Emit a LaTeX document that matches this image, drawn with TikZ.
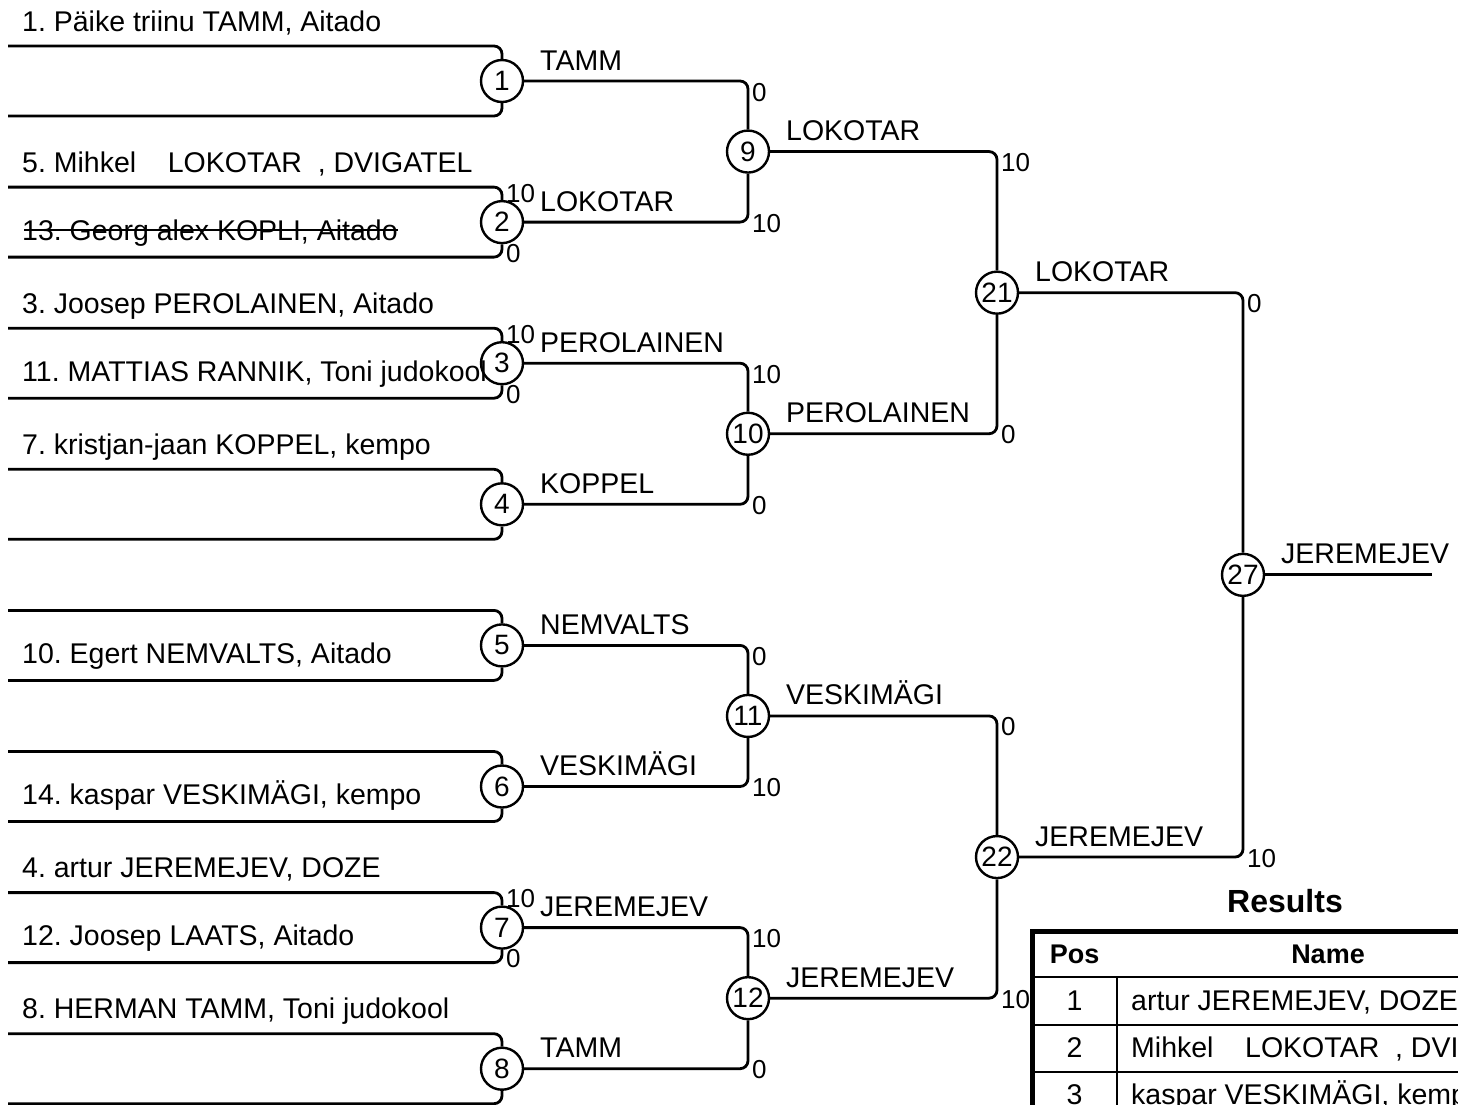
\documentclass[tikz,border=0pt]{standalone}
\usepackage{fontspec}
\setmainfont{Liberation Sans}
\usetikzlibrary{calc}
\frenchspacing
\begin{document}
\frenchspacing
\begin{tikzpicture}[x=1pt,y=-1pt,
  bline/.style={line width=2.8pt, rounded corners=8pt},
  mnode/.style={circle, draw, line width=2.4pt, minimum size=42pt, inner sep=0pt, font=\fontsize{28}{28}\selectfont},
  entry/.style={anchor=base west, inner sep=0pt, font=\fontsize{28.5}{32}\selectfont},
  winlab/.style={anchor=base west, inner sep=0pt, font=\fontsize{28.5}{32}\selectfont},
  score/.style={anchor=base west, inner sep=0pt, font=\fontsize{26}{28}\selectfont},
  tcell/.style={anchor=base, inner sep=0pt, font=\fontsize{28.5}{32}\selectfont},
  thead/.style={anchor=base, inner sep=0pt, font=\fontsize{27}{32}\selectfont\bfseries},
  touter/.style={line width=5pt},
  tinner/.style={line width=2.5pt}]
\useasboundingbox (0,0) rectangle (1458,1104);
\fill[white] (0,0) rectangle (1458,1104);
\clip (0,0) rectangle (1458,1104);

% round 1
\foreach \k/\y in {1/81,2/222.1,3/363.2,4/504.3,5/645.4,6/786.5,7/927.6,8/1068.7}{
  \node[mnode] (c\k) at (502,\y) {\k};
  \coordinate (t\k) at (8,\y-35);
  \coordinate (b\k) at (8,\y+35);
  \draw[bline] (t\k) -| (c\k.north);
  \draw[bline] (b\k) -| (c\k.south);
}
% round 2
\foreach \k/\a/\b/\y in {9/1/2/151.55,10/3/4/433.75,11/5/6/715.95,12/7/8/998.15}{
  \node[mnode] (c\k) at (748,\y) {\k};
  \draw[bline] (c\a.east) -| (c\k.north);
  \draw[bline] (c\b.east) -| (c\k.south);
}
% round 3
\foreach \k/\a/\b/\y in {21/9/10/292.65,22/11/12/857.05}{
  \node[mnode] (c\k) at (997,\y) {\k};
  \draw[bline] (c\a.east) -| (c\k.north);
  \draw[bline] (c\b.east) -| (c\k.south);
}
% final
\node[mnode] (c27) at (1243,574.85) {27};
\draw[bline] (c21.east) -| (c27.north);
\draw[bline] (c22.east) -| (c27.south);
\coordinate (fin) at (1432,574.85);
\draw[bline] (c27.east) -- (fin);

% entry names
\node[entry] (n1) at (22,31) {1. Päike triinu TAMM, Aitado};
\node[entry] (n5) at (22,172.1) {5. Mihkel\ \ \ \ LOKOTAR\ \ , DVIGATEL};
\node[entry] (n13) at (22,240.1) {13. Georg alex KOPLI, Aitado};
\draw[line width=2.5pt] ($(n13.base west)+(2,-10)$) -- ($(n13.base east)+(0,-10)$);
\node[entry] (n3) at (22,313.2) {3. Joosep PEROLAINEN, Aitado};
\node[entry] (n11) at (22,381.2) {11. MATTIAS RANNIK, Toni judokool};
\node[entry] (n7) at (22,454.3) {7. kristjan-jaan KOPPEL, kempo};
\node[entry] (n10) at (22,663.4) {10. Egert NEMVALTS, Aitado};
\node[entry] (n14) at (22,804.5) {14. kaspar VESKIMÄGI, kempo};
\node[entry] (n4) at (22,877.6) {4. artur JEREMEJEV, DOZE};
\node[entry] (n12) at (22,945.6) {12. Joosep LAATS, Aitado};
\node[entry] (n8) at (22,1018.7) {8. HERMAN TAMM, Toni judokool};

% winner labels
\foreach \k/\w in {1/TAMM,2/LOKOTAR,3/PEROLAINEN,4/KOPPEL,5/NEMVALTS,6/VESKIMÄGI,7/JEREMEJEV,8/TAMM,9/LOKOTAR,10/PEROLAINEN,11/VESKIMÄGI,12/JEREMEJEV,21/LOKOTAR,22/JEREMEJEV,27/JEREMEJEV}{
  \node[winlab] (w\k) at ($(c\k)+(38,-11)$) {\w};
}

% scores round 1
\node[score] (s2a) at (506,202.1) {10};
\node[score] (s2b) at (506,262.1) {0};
\node[score] (s3a) at (506,343.2) {10};
\node[score] (s3b) at (506,403.2) {0};
\node[score] (s7a) at (506,907.6) {10};
\node[score] (s7b) at (506,967.6) {0};
% scores later rounds
\node[score] (s9a) at (752,101) {0};
\node[score] (s9b) at (752,232.1) {10};
\node[score] (s10a) at (752,383.2) {10};
\node[score] (s10b) at (752,514.3) {0};
\node[score] (s11a) at (752,665.4) {0};
\node[score] (s11b) at (752,796.5) {10};
\node[score] (s12a) at (752,947.6) {10};
\node[score] (s12b) at (752,1078.7) {0};
\node[score] (s21a) at (1001,171.55) {10};
\node[score] (s21b) at (1001,443.75) {0};
\node[score] (s22a) at (1001,735.95) {0};
\node[score] (s22b) at (1001,1008.15) {10};
\node[score] (s27a) at (1247,312.65) {0};
\node[score] (s27b) at (1247,867.05) {10};

% results table
\node[anchor=base, inner sep=0pt, font=\fontsize{32}{36}\selectfont\bfseries] (restitle) at (1285,912) {Results};
\draw[touter] (1032,931) rectangle (1539,1140);
\draw[tinner] (1032,977) -- (1539,977);
\draw[tinner] (1032,1025) -- (1539,1025);
\draw[tinner] (1032,1072) -- (1539,1072);
\draw[tinner] (1117,977) -- (1117,1140);
\node[thead] (hpos) at (1074.5,963) {Pos};
\node[thead] (hname) at (1328,963) {Name};
\node[tcell] (p1) at (1074.5,1010) {1};
\node[tcell] (p2) at (1074.5,1057.5) {2};
\node[tcell] (p3) at (1074.5,1104.5) {3};
\node[entry] (r1) at (1131,1010) {artur JEREMEJEV, DOZE};
\node[entry] (r2) at (1131,1057.5) {Mihkel\ \ \ \ LOKOTAR\ \ , DVIGATEL};
\node[entry] (r3) at (1131,1104.5) {kaspar VESKIMÄGI, kempo};
\end{tikzpicture}
\end{document}
